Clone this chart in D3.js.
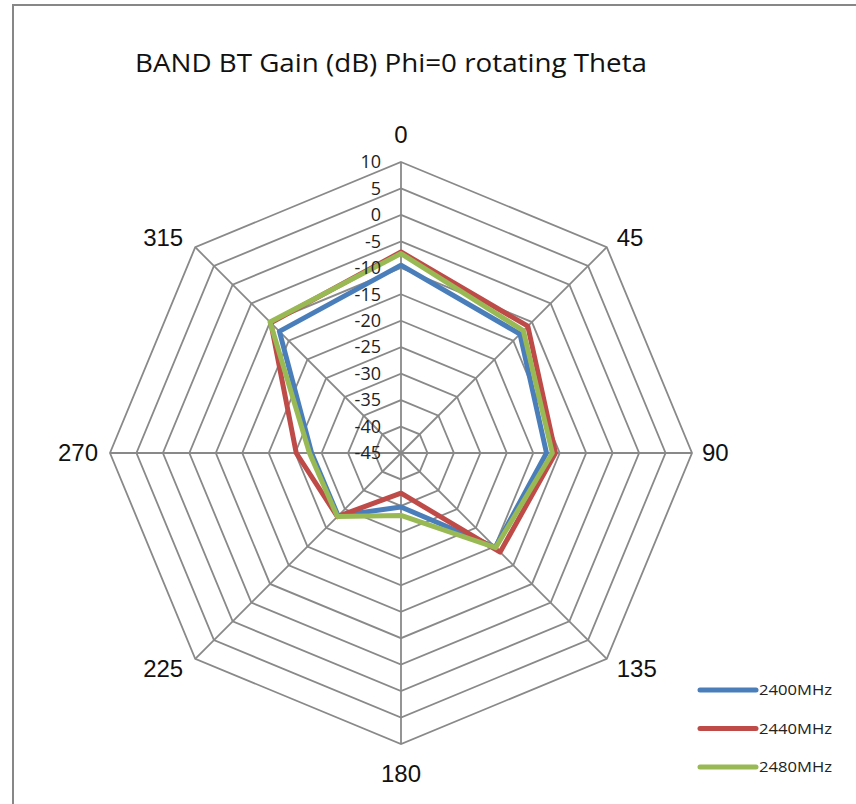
<!DOCTYPE html>
<html>
<head>
<meta charset="utf-8">
<script src="https://cdn.jsdelivr.net/npm/d3@7"></script>
<style>
  body { margin: 0; background: #fff; }
  svg { display: block; }
</style>
</head>
<body>
<div id="chart"></div>
<script>
const angles = [0, 45, 90, 135, 180, 225, 270, 315];
const ticks = [-45, -40, -35, -30, -25, -20, -15, -10, -5, 0, 5, 10];
const seriesNames = ["2400MHz", "2440MHz", "2480MHz"];
const blue = [-9.5, -13.2, -17.5, -19.8, -34.8, -28.2, -28.1, -12.5];
const red = [-7.0, -11.1, -15.8, -18.5, -37.4, -28.0, -25.2, -10.2];
const green = [-7.3, -12.3, -16.4, -19.7, -33.2, -28.0, -27.7, -10.0];
const colors = ["#4A7EBB", "#BE4B48", "#98B954"];

const width = 856;
const height = 804;
const cx = 401, cy = 453, R = 291;

const svg = d3.select("#chart")
  .append("svg")
  .attr("width", width)
  .attr("height", height);

// chart frame (cut by the window on right/bottom)
svg.append("rect")
  .attr("x", 13).attr("y", 5)
  .attr("width", 900).attr("height", 900)
  .style("fill", "none")
  .style("stroke", "#878787")
  .style("stroke-width", 2);

const r = d3.scaleLinear().domain([-45, 10]).range([0, R]);
const ang = d3.scaleLinear().domain([0, 360]).range([0, 2 * Math.PI]);

const pt = (a, v) => [cx + r(v) * Math.sin(ang(a)), cy - r(v) * Math.cos(ang(a))];

// grid rings
const grid = svg.append("g");
grid.selectAll(".ring")
  .data(ticks.slice(1))
  .enter()
  .append("polygon")
  .attr("class", "ring")
  .attr("points", t => angles.map(a => pt(a, t).join(",")).join(" "))
  .style("fill", "none")
  .style("stroke", "#898989")
  .style("stroke-width", 1.8);

// spokes
grid.selectAll(".spoke")
  .data(angles)
  .enter()
  .append("line")
  .attr("class", "spoke")
  .attr("x1", cx).attr("y1", cy)
  .attr("x2", a => pt(a, 10)[0])
  .attr("y2", a => pt(a, 10)[1])
  .style("stroke", "#898989")
  .style("stroke-width", 1.8);

// series lines
const line = d3.line().curve(d3.curveLinearClosed);
const series = [blue, red, green];
svg.selectAll(".series")
  .data(series)
  .enter()
  .append("path")
  .attr("class", "series")
  .attr("d", vals => line(vals.map((v, i) => pt(angles[i], v))))
  .style("fill", "none")
  .style("stroke", (d, i) => colors[i])
  .style("stroke-width", 5)
  .style("stroke-linejoin", "round");

// radial tick labels
svg.selectAll(".tick")
  .data(ticks)
  .enter()
  .append("text")
  .attr("class", "tick")
  .attr("x", cx - 20)
  .attr("y", t => cy - r(t))
  .attr("dy", "0.35em")
  .attr("text-anchor", "end")
  .style("font-family", "'Open Sans', sans-serif")
  .style("font-size", "18px")
  .style("fill", "#222")
  .text(d => d);

// angle labels
svg.selectAll(".alabel")
  .data(angles)
  .enter()
  .append("text")
  .attr("class", "alabel")
  .each(function (a) {
    const s = Math.sin(ang(a)), c = Math.cos(ang(a));
    const [vx, vy] = pt(a, 10);
    const el = d3.select(this);
    let x = vx, y = vy, anchor = "middle";
    if (s > 0.1) { anchor = "start"; x = vx + 10; }
    if (s < -0.1) { anchor = "end"; x = vx - 12; }
    if (Math.abs(s) < 0.1) {
      y = c > 0 ? vy - 19 : vy + 38;
    } else if (Math.abs(c) < 0.1) {
      y = vy + 8;
    } else {
      y = c > 0 ? vy - 1 : vy + 18;
    }
    el.attr("x", x).attr("y", y).attr("text-anchor", anchor);
  })
  .style("font-family", "'Liberation Sans', Arial, sans-serif")
  .style("font-size", "24px")
  .style("fill", "#111")
  .text(d => d);

// title
svg.append("text")
  .attr("x", 391)
  .attr("y", 72)
  .attr("text-anchor", "middle")
  .attr("textLength", 512)
  .attr("lengthAdjust", "spacingAndGlyphs")
  .style("font-family", "'Open Sans', sans-serif")
  .style("font-size", "25px")
  .style("fill", "#111")
  .text("BAND BT Gain (dB) Phi=0 rotating Theta");

// legend
const legend = svg.selectAll(".legend")
  .data(seriesNames)
  .enter()
  .append("g")
  .attr("class", "legend")
  .attr("transform", (d, i) => `translate(700, ${690 + i * 38.5})`);

legend.append("line")
  .attr("x1", 0).attr("x2", 56)
  .attr("y1", 0).attr("y2", 0)
  .style("stroke", (d, i) => colors[i])
  .style("stroke-width", 5)
  .style("stroke-linecap", "round");

legend.append("text")
  .attr("x", 59)
  .attr("y", 0)
  .attr("dy", "0.35em")
  .attr("textLength", 73)
  .attr("lengthAdjust", "spacingAndGlyphs")
  .style("font-family", "'Open Sans', sans-serif")
  .style("font-size", "15px")
  .style("fill", "#222")
  .text(d => d);
</script>
</body>
</html>
